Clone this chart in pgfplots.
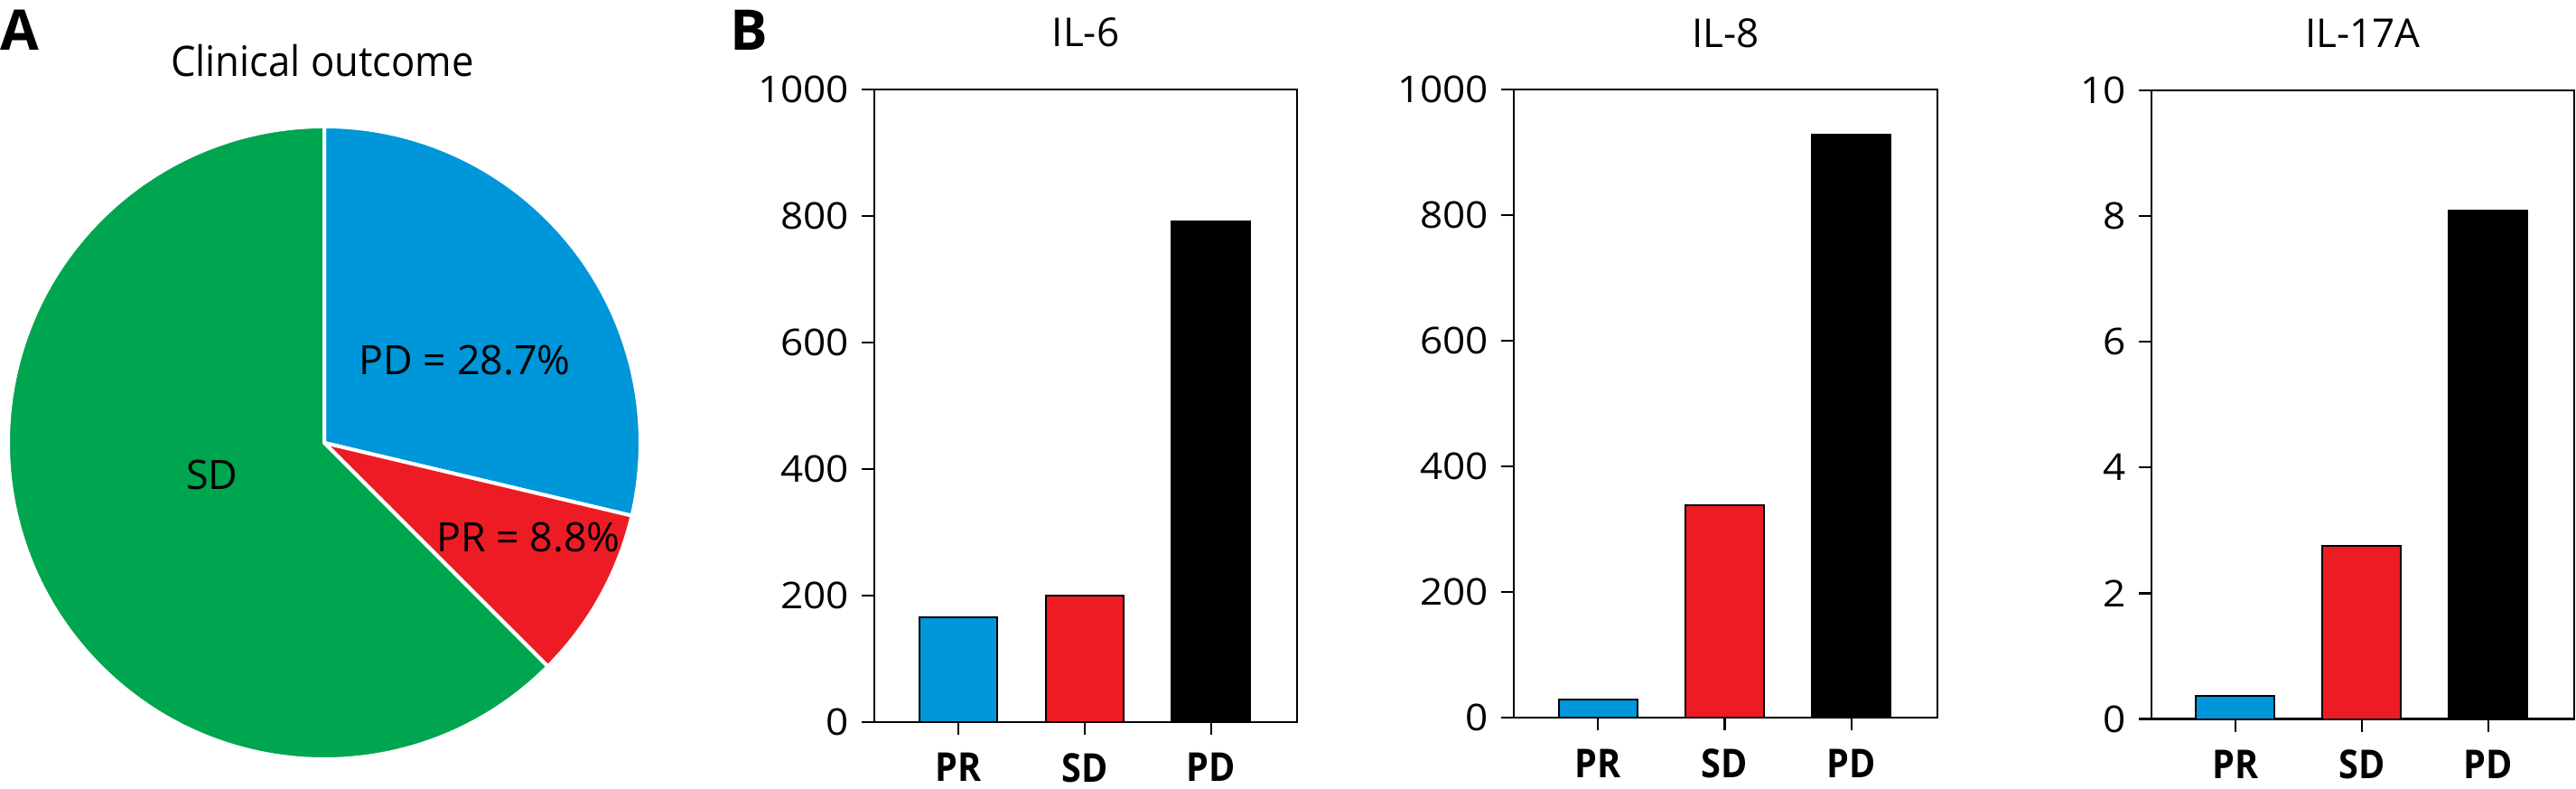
\documentclass[border=0pt]{standalone}
\usepackage{fontspec}
\setmainfont{Open Sans}
\newfontfamily\tickf[FakeStretch=1.08]{Open Sans}
\newfontfamily\titlef[FakeStretch=0.94]{Open Sans}
\newfontfamily\boldf[FakeStretch=0.9]{Open Sans Bold}
\usepackage{pgfplots}
\pgfplotsset{compat=1.18}
\definecolor{cblue}{RGB}{0,150,218}
\definecolor{cred}{RGB}{237,28,36}
\definecolor{cgreen}{RGB}{0,165,80}
% pie data (percent)
\def\pPD{28.7}
\def\pPR{8.8}
\def\pSD{62.5}
\pgfplotsset{
  barax/.style={
    scale only axis,
    anchor=south west,
    xmin=-0.665, xmax=2.68,
    ymin=0,
    xtick={0,1,2},
    xticklabels={PR,SD,PD},
    tick align=outside,
    tick pos=left,
    major tick length=3.5pt,
    axis line style={line width=0.55pt},
    every tick/.style={line width=0.55pt, black},
    /pgf/number format/assume math mode=true,
    /pgf/number format/1000 sep={},
    yticklabel style={font=\tickf\fontsize{10.2pt}{12pt}\selectfont},
    xticklabel style={font=\boldf\fontsize{11pt}{12pt}\selectfont, yshift=-1.6pt},
    title style={font=\fontsize{11pt}{12pt}\selectfont, at={(0.5,1)}, anchor=base, yshift=5.75pt},
    ybar, bar width=0.62, bar shift=0pt,
  },
}
\begin{document}
\begin{tikzpicture}
\path[use as bounding box] (0,0) rectangle (713pt,-218.25pt);
% panel letters
\node[anchor=base west, inner sep=0pt, font=\fontsize{15.5pt}{16pt}\selectfont\bfseries] at (0pt,-14pt) {A};
\node[anchor=base west, inner sep=0pt, font=\fontsize{15.5pt}{16pt}\selectfont\bfseries] at (202pt,-14pt) {B};
% pie
\begin{axis}[at={(89.75pt,-122.5pt)}, anchor=center, scale only axis, width=175pt, height=175pt,
  xmin=-1, xmax=1, ymin=-1, ymax=1, hide axis, clip=false]
  \pgfmathsetmacro{\aA}{90}
  \pgfmathsetmacro{\aB}{90-3.6*\pPD}
  \pgfmathsetmacro{\aC}{\aB-3.6*\pPR}
  \pgfmathsetmacro{\aD}{\aC-3.6*\pSD}
  \filldraw[fill=cblue, draw=white, line width=1pt] (axis cs:0,0) -- ++(\aA:87.5pt) arc[start angle=\aA, end angle=\aB, radius=87.5pt] -- cycle;
  \filldraw[fill=cred, draw=white, line width=1pt] (axis cs:0,0) -- ++(\aB:87.5pt) arc[start angle=\aB, end angle=\aC, radius=87.5pt] -- cycle;
  \filldraw[fill=cgreen, draw=white, line width=1pt] (axis cs:0,0) -- ++(\aC:87.5pt) arc[start angle=\aC, end angle=\aD, radius=87.5pt] -- cycle;
\end{axis}
\node[anchor=base, inner sep=0pt, font=\titlef\fontsize{11.6pt}{12pt}\selectfont] at (89.25pt,-21.15pt) {Clinical outcome};
\node[anchor=base, inner sep=0pt, font=\fontsize{11.2pt}{12pt}\selectfont] at (128.65pt,-103.75pt) {PD = 28.7\%};
\node[anchor=base, inner sep=0pt, font=\fontsize{11.2pt}{12pt}\selectfont] at (146.25pt,-152.75pt) {PR = 8.8\%};
\node[anchor=base, inner sep=0pt, font=\fontsize{11.2pt}{12pt}\selectfont] at (58.75pt,-135.5pt) {SD};
% IL-6
\begin{axis}[barax, at={(242pt,-199.75pt)}, width=117pt, height=175pt, ymax=1000, ytick={0,200,...,1000}, title={IL-6}]
  \addplot[fill=cblue, draw=black, line width=0.5pt] coordinates {(0,166)};
  \addplot[fill=cred, draw=black, line width=0.5pt] coordinates {(1,200)};
  \addplot[fill=black, draw=black, line width=0.5pt] coordinates {(2,791)};
\end{axis}
% IL-8
\begin{axis}[barax, at={(419pt,-198.6pt)}, width=117.25pt, height=173.75pt, ymax=1000, ytick={0,200,...,1000}, title={IL-8}]
  \addplot[fill=cblue, draw=black, line width=0.5pt] coordinates {(0,30)};
  \addplot[fill=cred, draw=black, line width=0.5pt] coordinates {(1,338)};
  \addplot[fill=black, draw=black, line width=0.5pt] coordinates {(2,928)};
\end{axis}
% IL-17A
\begin{axis}[barax, at={(595.4pt,-198.9pt)}, width=117.1pt, height=173.9pt, ymax=10, ytick={0,2,...,10}, title={IL-17A}]
  \addplot[fill=cblue, draw=black, line width=0.5pt] coordinates {(0,0.37)};
  \addplot[fill=cred, draw=black, line width=0.5pt] coordinates {(1,2.75)};
  \addplot[fill=black, draw=black, line width=0.5pt] coordinates {(2,8.09)};
\end{axis}
\end{tikzpicture}
\end{document}
